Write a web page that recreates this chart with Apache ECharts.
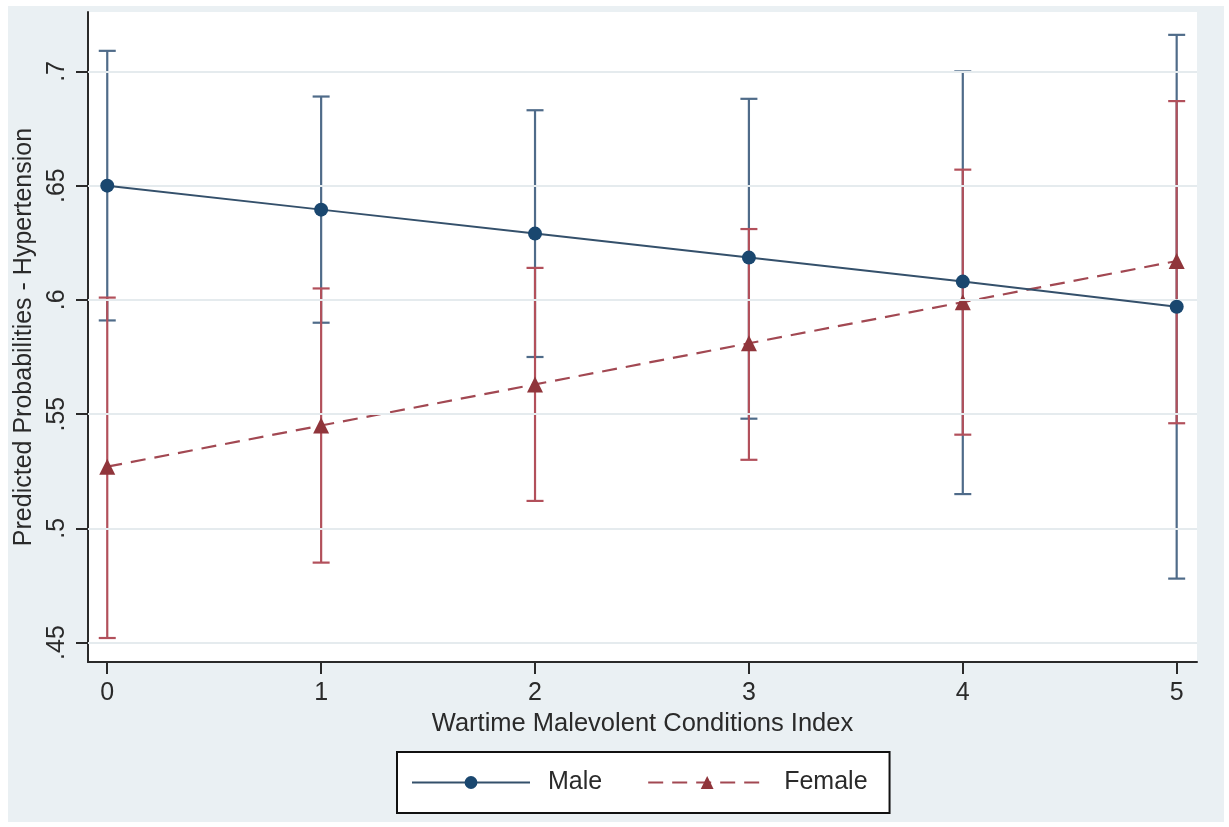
<!DOCTYPE html>
<html>
<head>
<meta charset="utf-8">
<script src="https://cdn.jsdelivr.net/npm/echarts@6/dist/echarts.min.js"></script>
<style>
html,body{margin:0;padding:0;background:#fff;}
#bg{position:absolute;left:8px;top:6px;width:1216px;height:816px;background:#eaf0f3;}
#chart{position:absolute;left:0;top:0;width:1229px;height:827px;}
</style>
</head>
<body>
<div id="bg"></div>
<div id="chart"></div>
<script>
const xValues = [0, 1, 2, 3, 4, 5];
const maleP   = [0.650, 0.6395, 0.629, 0.6185, 0.608, 0.597];
const maleLo  = [0.591, 0.590, 0.575, 0.548, 0.515, 0.478];
const maleHi  = [0.709, 0.689, 0.683, 0.688, 0.700, 0.716];
const femaleP  = [0.527, 0.545, 0.563, 0.581, 0.599, 0.617];
const femaleLo = [0.452, 0.485, 0.512, 0.530, 0.541, 0.546];
const femaleHi = [0.601, 0.605, 0.614, 0.631, 0.657, 0.687];
const yTicks = [0.45, 0.5, 0.55, 0.6, 0.65, 0.7];
const yTickLabels = ['.45', '.5', '.55', '.6', '.65', '.7'];
const xTicks = [0, 1, 2, 3, 4, 5];

const FONT = '"Liberation Sans", Arial, sans-serif';
const chart = echarts.init(document.getElementById('chart'), null, {renderer: 'canvas'});

function pairs(xs, ys) { return xs.map((x, i) => [x, ys[i]]); }
function bars(xs, lo, hi) { return xs.map((x, i) => [x, lo[i], hi[i]]); }

function errRender(color) {
  return function (params, api) {
    const x = api.value(0);
    const a = api.coord([x, api.value(1)]);
    const b = api.coord([x, api.value(2)]);
    const w = 8.5;
    const st = {stroke: color, lineWidth: 2.2};
    return {
      type: 'group',
      children: [
        {type: 'line', shape: {x1: a[0], y1: a[1], x2: b[0], y2: b[1]}, style: st},
        {type: 'line', shape: {x1: a[0] - w, y1: a[1], x2: a[0] + w, y2: a[1]}, style: st},
        {type: 'line', shape: {x1: b[0] - w, y1: b[1], x2: b[0] + w, y2: b[1]}, style: st}
      ]
    };
  };
}

const option = {
  animation: false,
  backgroundColor: 'transparent',
  grid: {left: 88, right: 32, top: 12, bottom: 165, show: true, backgroundColor: '#ffffff', borderWidth: 0},
  xAxis: {
    type: 'value', min: -0.09, max: 5.095,
    name: 'Wartime Malevolent Conditions Index',
    nameLocation: 'middle', nameGap: 42,
    nameTextStyle: {fontFamily: FONT, fontSize: 25.5, color: '#2a2a2a'},
    axisLine: {show: true, onZero: false, lineStyle: {color: '#2a2a2a', width: 2}},
    axisTick: {show: true, length: 12, customValues: xTicks, lineStyle: {color: '#2a2a2a', width: 2}},
    axisLabel: {customValues: xTicks, margin: 19, fontFamily: FONT, fontSize: 25, color: '#2a2a2a'},
    splitLine: {show: false}
  },
  yAxis: {
    type: 'value', min: 0.4415, max: 0.726,
    name: 'Predicted Probabilities - Hypertension',
    nameLocation: 'middle', nameGap: 50,
    nameTextStyle: {fontFamily: FONT, fontSize: 25, color: '#2a2a2a'},
    axisLine: {show: true, onZero: false, lineStyle: {color: '#2a2a2a', width: 2}},
    axisTick: {show: true, length: 12, customValues: yTicks, lineStyle: {color: '#2a2a2a', width: 2}},
    axisLabel: {
      customValues: yTicks, rotate: 90, margin: 18, fontFamily: FONT, fontSize: 25, color: '#2a2a2a',
      formatter: function (v) {
        const i = yTicks.findIndex(t => Math.abs(t - v) < 1e-9);
        return i >= 0 ? yTickLabels[i] : '';
      }
    },
    splitLine: {show: false}
  },
  legend: {
    data: ['Male', 'Female'],
    left: 397, top: 752,
    padding: [18, 22, 18, 14],
    itemWidth: 118, itemHeight: 16, itemGap: 45,
    backgroundColor: '#ffffff', borderColor: '#111', borderWidth: 2, borderRadius: 0,
    textStyle: {fontFamily: FONT, fontSize: 25, color: '#2a2a2a', padding: [0, 0, 0, 13]}
  },
  series: [
    {
      name: 'gridlines', type: 'line', data: [], silent: true, z: 1,
      markLine: {
        silent: true, symbol: 'none', label: {show: false},
        lineStyle: {color: '#e5ebee', width: 2, type: 'solid'},
        data: yTicks.map(v => ({yAxis: v}))
      }
    },
    {
      name: 'Male CI', type: 'custom', z: 2,
      renderItem: errRender('#4f6b89'),
      data: bars(xValues, maleLo, maleHi)
    },
    {
      name: 'Female CI', type: 'custom', z: 3,
      renderItem: errRender('#b2505b'),
      data: bars(xValues, femaleLo, femaleHi)
    },
    {
      name: 'Male', type: 'line', z: 5,
      data: pairs(xValues, maleP),
      symbol: 'circle', symbolSize: 14,
      itemStyle: {color: '#1a476f'},
      lineStyle: {color: '#34506b', width: 2, type: 'solid'}
    },
    {
      name: 'Female', type: 'line', z: 4,
      data: pairs(xValues, femaleP),
      symbol: 'triangle', symbolSize: 16,
      itemStyle: {color: '#90353b'},
      lineStyle: {color: '#a24852', width: 2.2, type: [15, 9]}
    }
  ]
};
chart.setOption(option);
</script>
</body>
</html>
